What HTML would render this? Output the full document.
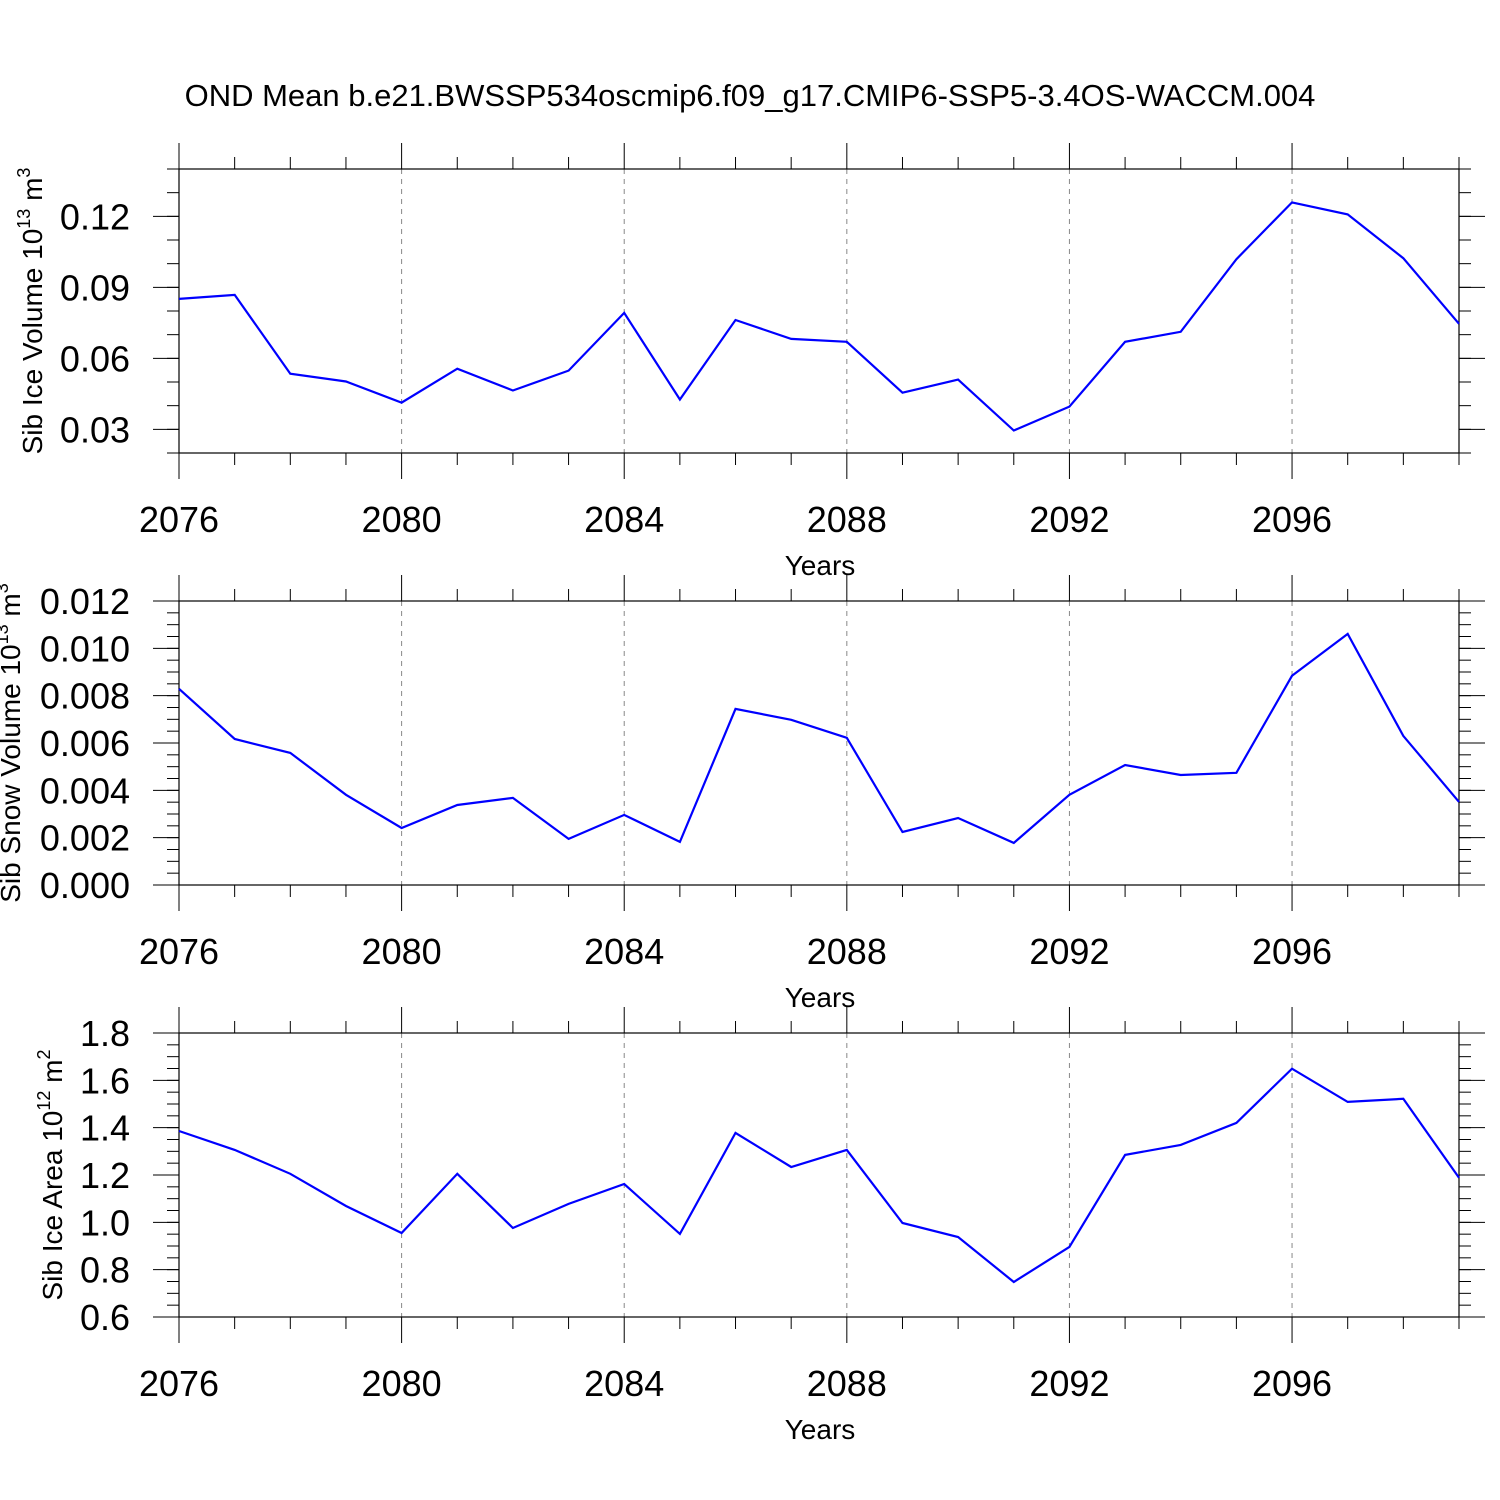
<!DOCTYPE html>
<html><head><meta charset="utf-8"><style>
body{margin:0;background:#fff}
svg{display:block;font-family:"Liberation Sans",sans-serif}
</style></head><body>
<svg id="c" width="1500" height="1500" xmlns="http://www.w3.org/2000/svg">
<text x="750" y="106" font-size="31" text-anchor="middle">OND Mean b.e21.BWSSP534oscmip6.f09_g17.CMIP6-SSP5-3.4OS-WACCM.004</text>
</svg>
<script>
const years=[2076,2077,2078,2079,2080,2081,2082,2083,2084,2085,2086,2087,2088,2089,2090,2091,2092,2093,2094,2095,2096,2097,2098,2099];
const xTickYears=[2076,2080,2084,2088,2092,2096];
const iceVol=[0.0851,0.0868,0.0535,0.0502,0.0413,0.0556,0.0464,0.0548,0.0792,0.0426,0.0762,0.0682,0.0670,0.0455,0.0510,0.0295,0.0396,0.0670,0.0712,0.1019,0.1259,0.1208,0.1023,0.0746];
const snowVol=[0.00829,0.00617,0.00558,0.00381,0.00241,0.00338,0.00368,0.00195,0.00296,0.00182,0.00744,0.00698,0.00622,0.00224,0.00283,0.00178,0.00381,0.00507,0.00465,0.00474,0.00884,0.01061,0.00630,0.00351];
const iceArea=[1.386,1.306,1.205,1.069,0.955,1.205,0.976,1.078,1.162,0.951,1.378,1.234,1.306,0.997,0.938,0.748,0.896,1.285,1.327,1.420,1.649,1.509,1.522,1.188];
const ticks1=["0.03","0.06","0.09","0.12"];
const ticks2=["0.000","0.002","0.004","0.006","0.008","0.010","0.012"];
const ticks3=["0.6","0.8","1.0","1.2","1.4","1.6","1.8"];

const svg=document.getElementById('c');
const NS="http://www.w3.org/2000/svg";
function mk(tag,attrs,parent){const e=document.createElementNS(NS,tag);for(const k in attrs)e.setAttribute(k,attrs[k]);(parent||svg).appendChild(e);return e;}
const X0=179,X1=1459;
const xs=y=>X0+(y-2076)/(2099-2076)*(X1-X0);

function panel(name,top,bot,ymin,ymax,tickLabels,minorStep,data,title,sup,unitPow){
  const g=mk('g',{});
  
  
  const ys=v=>bot-(v-ymin)/(ymax-ymin)*(bot-top);
  xTickYears.forEach(y=>{ if(y>2076){const l=mk('line',{x1:xs(y),x2:xs(y),y1:top,y2:bot,stroke:'#888','stroke-width':1,'stroke-dasharray':'5,5'},g);
    }});
  const r=mk('rect',{x:X0,y:top,width:X1-X0,height:bot-top,fill:'none',stroke:'#000','stroke-width':1.2},g);
  
  years.forEach(y=>{const maj=xTickYears.includes(y);const L=maj?26:12;
    mk('line',{x1:xs(y),x2:xs(y),y1:top,y2:top-L,stroke:'#000','stroke-width':1},g);
    mk('line',{x1:xs(y),x2:xs(y),y1:bot,y2:bot+L,stroke:'#000','stroke-width':1},g);});
  xTickYears.forEach(y=>{const t=mk('text',{x:xs(y),y:bot+79,'font-size':36,'text-anchor':'middle'},g);t.textContent=y;
    });
  const xt=mk('text',{x:820,y:bot+122,'font-size':28,'text-anchor':'middle'},g);xt.textContent='Years';
  
  const nMin=Math.round((ymax-ymin)/minorStep);
  for(let i=0;i<=nMin;i++){const v=ymin+i*minorStep;const y=ys(v);
    mk('line',{x1:X0,x2:X0-12,y1:y,y2:y,stroke:'#000','stroke-width':1},g);
    mk('line',{x1:X1,x2:X1+12,y1:y,y2:y,stroke:'#000','stroke-width':1},g);}
  tickLabels.forEach(s=>{const v=parseFloat(s);const y=ys(v);
    mk('line',{x1:X0,x2:X0-26,y1:y,y2:y,stroke:'#000','stroke-width':1},g);
    mk('line',{x1:X1,x2:X1+26,y1:y,y2:y,stroke:'#000','stroke-width':1},g);
    const t=mk('text',{x:130,y:y+13,'font-size':36,'text-anchor':'end'},g);t.textContent=s;
    });
  const cy=(top+bot)/2, tx=title.tx;
  const t=mk('text',{x:0,y:0,'font-size':28,'text-anchor':'middle',transform:`translate(${tx},${cy}) rotate(-90)`},g);
  
  const a=document.createElementNS(NS,'tspan');a.textContent=title.text+' 10';t.appendChild(a);
  const b=document.createElementNS(NS,'tspan');b.setAttribute('font-size','18');b.setAttribute('dy','-12');b.textContent=unitPow;t.appendChild(b);
  const c=document.createElementNS(NS,'tspan');c.setAttribute('dy','12');c.textContent=' m';t.appendChild(c);
  const d=document.createElementNS(NS,'tspan');d.setAttribute('font-size','18');d.setAttribute('dy','-12');d.textContent=sup;t.appendChild(d);
  const pts=data.map((v,i)=>xs(years[i]).toFixed(1)+','+ys(v).toFixed(1)).join(' ');
  const p=mk('polyline',{points:pts,fill:'none',stroke:'#0000ff','stroke-width':2.2},g);
  
}
panel('ice-volume',169,453,0.02,0.14,ticks1,0.01,iceVol,{text:'Sib Ice Volume',tx:42},'3','13');
panel('snow-volume',601,885,0,0.012,ticks2,0.0005,snowVol,{text:'Sib Snow Volume',tx:20},'3','13');
panel('ice-area',1033,1317,0.6,1.8,ticks3,0.05,iceArea,{text:'Sib Ice Area',tx:62},'2','12');
</script>
</body></html>
